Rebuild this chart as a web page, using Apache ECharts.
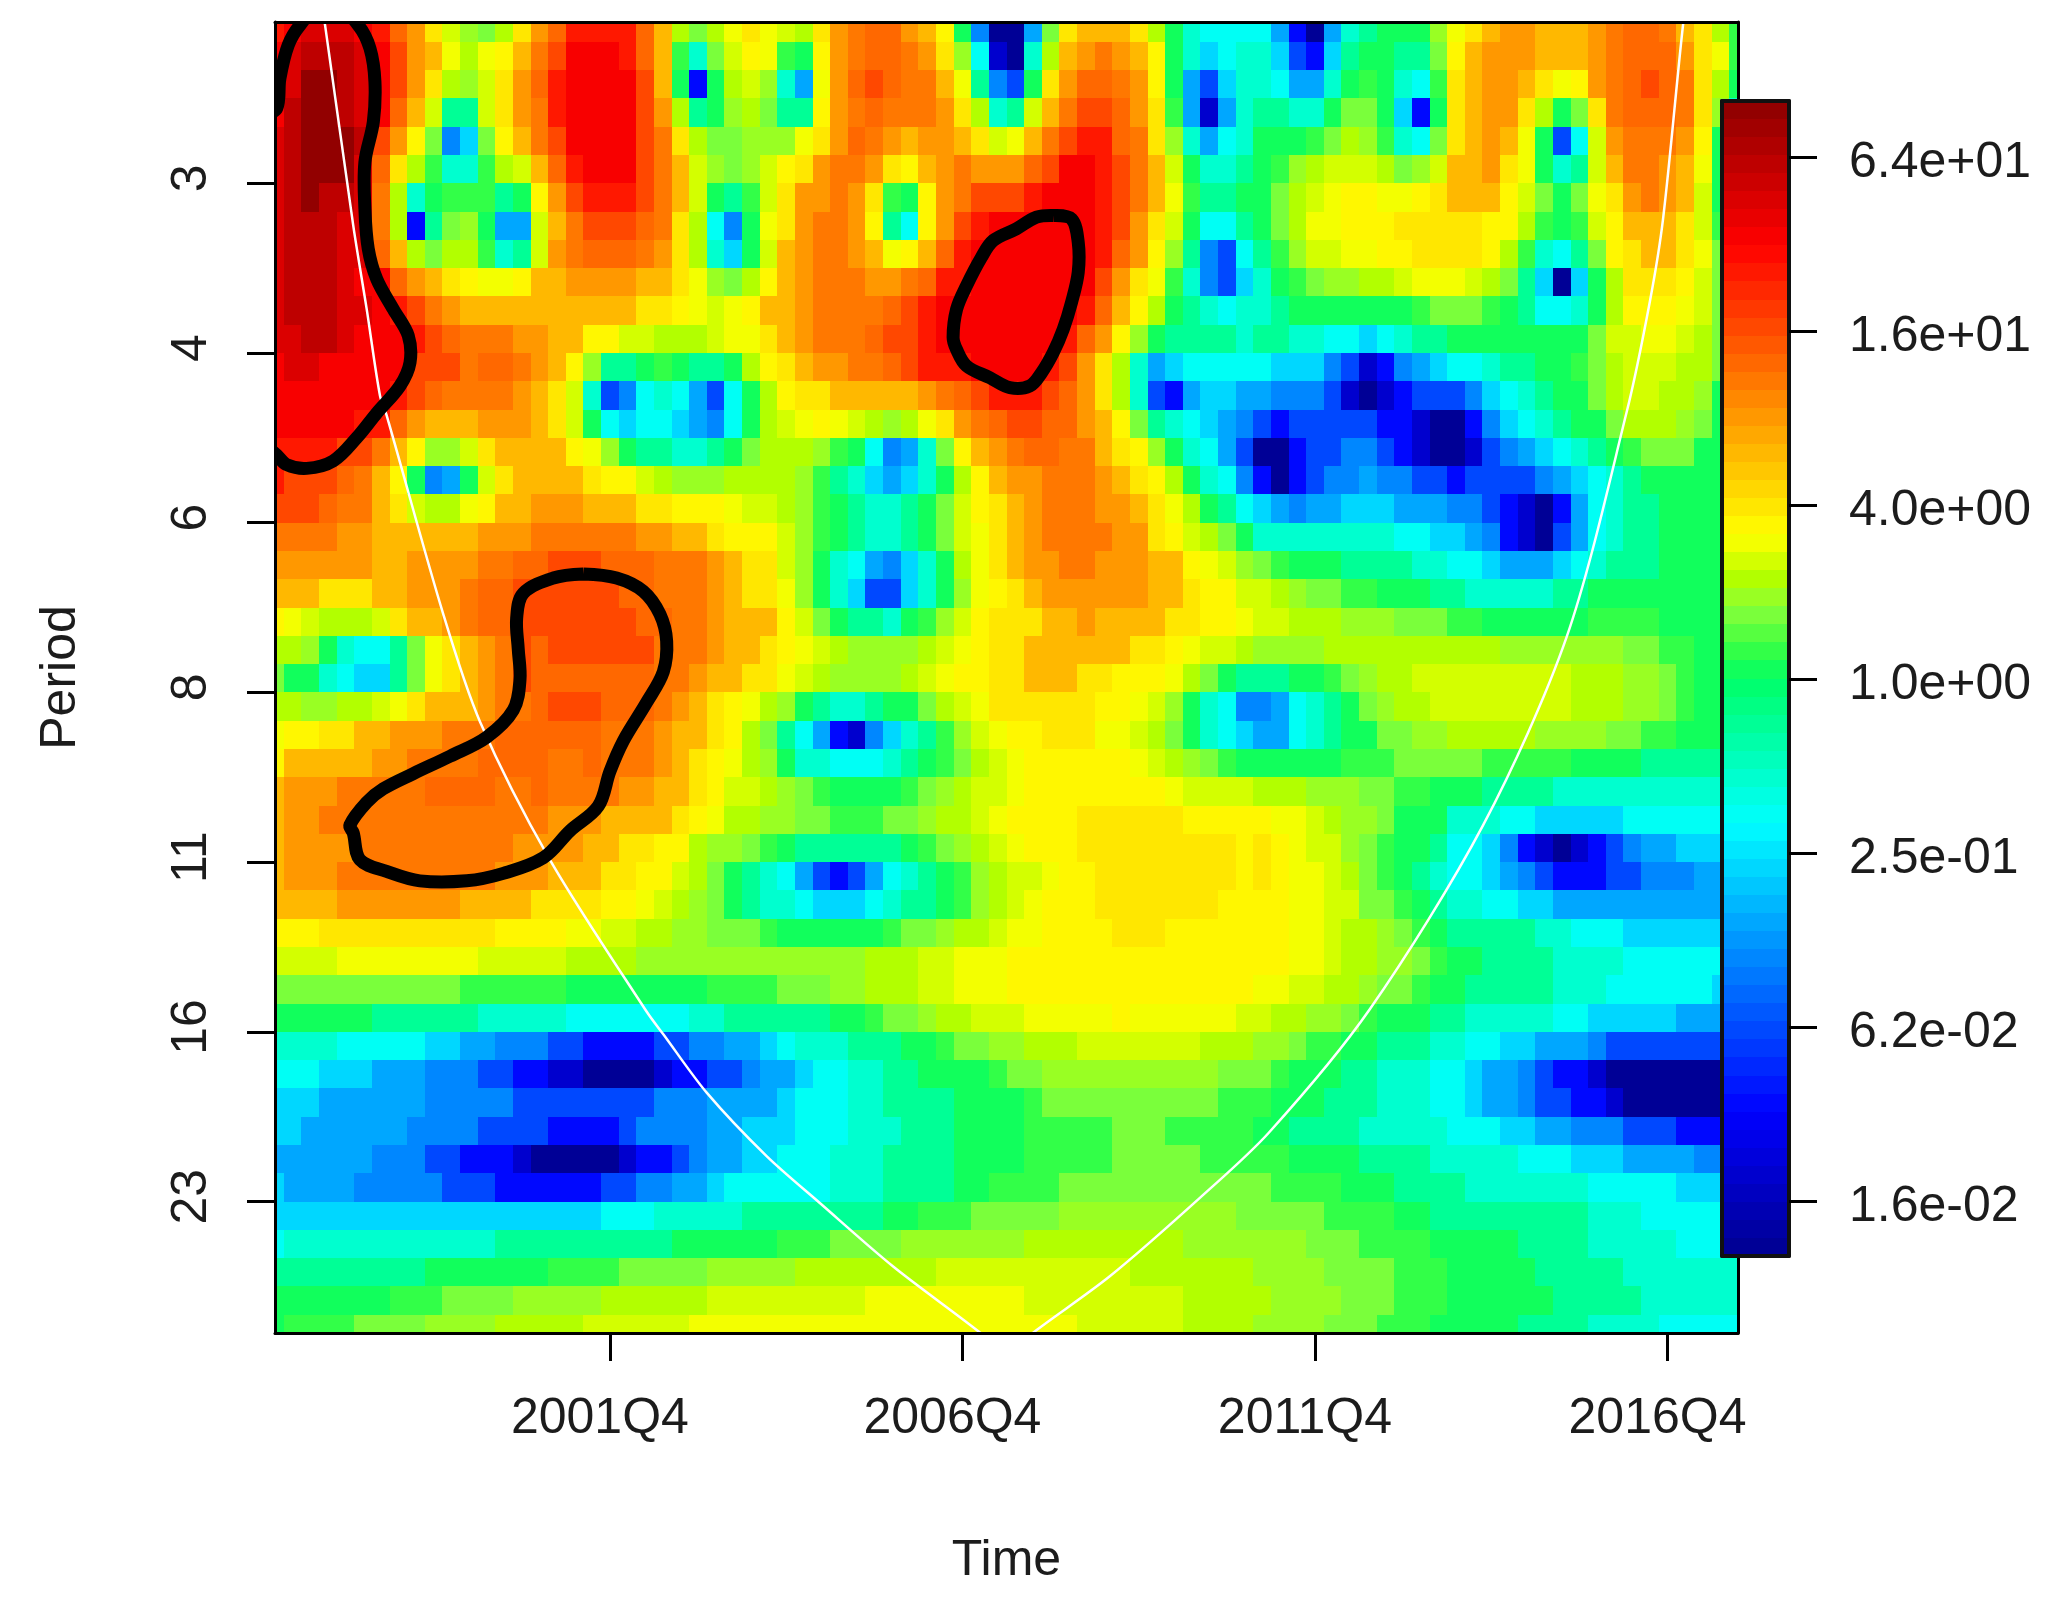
<!DOCTYPE html>
<html>
<head>
<meta charset="utf-8">
<title>Wavelet power spectrum</title>
<script src="https://cdn.jsdelivr.net/npm/echarts@6/dist/echarts.min.js"></script>
<style>
  html, body { margin: 0; padding: 0; background: #fff; }
  #chart { width: 2071px; height: 1621px; }
</style>
</head>
<body>
<div id="chart"></div>
<script>
// Power per cell. One row per period (top to bottom), one letter
// per quarter; a letter is a place on the colour scale, see levelPos.
// Each row is split in three blocks of 29, 27 and 28 quarters.
const powerRows = [
  'yzAAAzywuspnmosuwyyyywtomoqsq posuvwwutrkeaafmstttsokihhh hfcafijkkknqstuutttuvwwvtsol',
  'zABBBAzxutqoqrtvxzzzywtlimprq lkruvwwvusnhbaiotuvutrkighi igdcgjkkjjmrtuuutttuvwwwusql',
  'zACCBAzxusonpsuwyzzzzxtkckopn ifquwxwvvtqjedksuwwvurkfdgi ihffiklkihlstuutsqruvwxwvsok',
  'zBCCBAzwtpjjpsuvyzzzzxuojknom jjruvwvvvusoijptvxxwuslfbfi jjiikmmkgckstuusokmsvwwwvsni',
  'ABCCCBxurmegmrtvxzzzzxvsommnn nqsuwvutuutspqtvxyywvsnifhi kkklmonlihmstutqkdhpuvvvurkk',
  'ABCCCAwsoliiloptwyzzzxvtpnmnp rsuvvusrtuvuuuwxzzyxvtpkiij klnopppomnpttusqkijptvvutqkk',
  'ABCBBAvoikllljkruxyyyxvtpkjlp suuvuslkruvxxxyzzzyxvtqljjk kmopqrrqqrstttrpmkmqsuvutpkk',
  'ABBBAAvocjmnkffptvxxxwvsohekq suvvurjhruxyzzzzzzyxuspkhhj kmoqqrrrsssssrrolklprtttspll',
  'ABBBAAwtomoolijpuvwwwvusoigkp tuvvutqrtwyzzzzzzzywurnjedh jlnppqqrrssssrolihjmrsttsqmm',
  'ABBBAzzwutsrqqrttuuuuttsqnmor tuvvvuuvwyyzzzzzzzxusqliedg iklmnnoopqqqpomjgagkosssrpmm',
  'ABBBAAzyxvuttttttttttssrqpqrt tuvvvvwxyzzzzzzzzywtrokjihi ijkkkkkkklmmmlkjhhikorrrqpmm',
  'AABBAzzzyxwvvvuuttrrppooopqqs tuvvvwxxyzzzzzzzywurnkjjjji jjiihhghijjkkkkkkkkmppqqpomm',
  'zAAzzzzzxxxvwwvutrnjjklkjjkor stuuvvwxyyyzzzzyxusoifghhhh hgggedbcefghhijjkklmopppooml',
  'zzzzzzzyxwvvvvutspidehihfdhko rsstttttuvwxyyyxwusoidcfggf feeedbabcdddeghijkkmoppoonkk',
  'zzzzzyywutttuuutspkhghhgfehko pqrqponoqsuvwxxwwutrmjihgfe dcdddddccbaaceghijkkmooonmkk',
  'yyyyxxvtrnnpsttttrqnkjjiijkmo oonlkhefimrtuvwwvvtsrnkihfd aacddeedcbaabdefghijklmmmkkk',
  'yxxxwvtrkefkpsttttsrrponnnooo onljigfgikortuuvvvutsrokihe cacdeefeeddcddddefghijkkkkkj',
  'xxxwvvtspooqrttuuutttssrrrqpp onlkjiijkmprstuvvvuutsqokjh gfeffgggfffeedcbacfhijjkkkkj',
  'vvvvuuttttttuuuvvvvvvuuttsrrr pnlkjiijkmpqstuvvvvuusrpomk iiiiiiiihhggfecbadfhijjkkkkj',
  'uuuuuuttuuuuvvwwxxxwwwvvvutss pnkihfegikoqstuuvvuuuttrqpn mlkkkjjjjiihhgfffghijjjkkkkj',
  'tttsssttuuuvwwxxxxxxwwvvvutss qnkigddgiknqrstuuuuuuttsrrp ponmmllkkkjjiiiiijjkkkkkkkkj',
  'rqpooopsttuvwwxxxxxxxwwvvuttt rpmkjjiklnprsssttuttttssrrq ppooonnnmmmllkkkkkkllllkkkkj',
  'oonkihhjmqstuvxwxxxxxxvvvutts rqponnnnopqrssttttttssrqppo nnnnoooooooooonnnnnnnmmllkkk',
  'mkkihggjmqstuvxwwwwwwwvvuttss qponnnnopqrrsstttssrrrqomkj jjkklmnoopppppppppooonnmlkkk',
  'oonnoopqstttuvvwxxxwwwvutsrqo nkjiijkkmopqssssssrrqpnkihe efhijkmnooppppppppooonnmlkkk',
  'qrrssttuuuvvvwwwwwwvvvuttsrom jhfcbegijlnpqrrsssqqpomkihg ffhijkkmmnnooooonnnnmmllkkkj',
  'rtttttuuvvvvwwwwvvwvvvutsrqon kiihhhijklmopqrrrrrrqponmlk kkkkklllmmmmmlllllkkkkjjjjjj',
  'tuuuvvvvvwwwwvvwvvvvuuttsrppo nmlkkkklmnoppqrrrrrrrrqpppp ooonnnmmllkkkjjjjiiiiiiiiiii',
  'tuuvvvvvvvvvvvvvuuuttttsrqoon nmmlllmmnoopqrrrrssssssrrrr rqqponnmkkkiiihhggggghhhhhhh',
  'tuuuuvvvvvvvvvuuuuttssrronnml kjjjjjjklmnopqrrrsssssssssr srqppnmlkkjhhgecbabcdeffgggh',
  'tuuuvvvvvvvvvuuutttssrrpomkji hfdcdfhijklnoppqrrssssssssr srqqpomlkjihhgfedcccddeeefff',
  'ttttuuuuuuuttttssssrrqponmkji ihggghijjklnopqrrrsssssssrr rrqqppmmlkjiihhggfffffffffff',
  'rrrssssssssssrrrrqqppoonnmmml kkkkkklmmnoopqqrrrrsssrrrrr rrqqpoonmlkjjjjjiihhhggggggg',
  'ppppqqqqqqqqpppppoooonnnnnnnn nnnnnoooppqqqrrrrrrrrrrrrrr rrqqpoonnmlkkjjjjiiiihhhhhhh',
  'mmmmmmmmmmmllllllkkkkkkkkllll mmmnnoooppqqqrrrrrrrrrrrrrr qqppoonmmlkkjjjjjiiihhhhhhgg',
  'kkkkkkjjjjjjiiiiihhhhhhhiijjj jjjkklmmnoopppqqqqqrqqqqqqp poonnmlkkkjjiiiiihhgggggffff',
  'iiiihhhhhggffeeeddccccddeeffg hiiijjjkklmmnnooopppppppooo nnmllkkjjjiihhggfffedddddddd',
  'hhhgggfffeeeddccbbaaaabccddef fghhiijjkkkklmmnnnnnnnnnnmm mlkkkjjiiihhgffedccbaaaaaaaa',
  'gggffffffeeeeeddddddddeeeffff ghhhiijjjjkkkklmmmmmmmmmmll lkkkjjjiiihhgffeddccbaaaaaaa',
  'ggffffffeeeeddddccccdeeeeffgg ghhhiiijjjkkkklllllmmmlllll kkjjjjiiiiihhhggffeeedddcccc',
  'ffffffeeeddcccbaaaaabccdeffgg hhhiiijjjjkkkklllllmmmmmlll llkkkkjjjjiiiiihhhgggffffeee',
  'gffffeeeeedddccccccddeeffghhh hhhiiijjjjkkllllmmmmmmmmmmm mllllkkkjjjjiiiiiiihhhhhgggg',
  'ggggggggggggggggggghhhiiiiijj jjjjjjkklllmmmmmnnnnnnnnnnm mmmmllllkkjjjjjjjjjiiihhhhhh',
  'hiiiiiiiiiiiijjjjjjjjjjkkkkkk lllmmmmnnnnnnnooooooooonnnn nnnmmmllllkkkkkjjjjiiiiihhhh',
  'jjjjjjjjjkkkkkkkllllmmmmmnnnn noooooooopppppppppppooooooo nnnnmmmmlllkkkkkjjjjjiiiiiii',
  'kkkkkkklllmmmmnnnnnoooooopppp pppppqqqqqqqqqpppppppppoooo onnnnmmmlllkkkkkkjjjjjiiiiii',
  'kllllmmmmnnnnoooooppppppqqqqq qqqqqqqqqqqqqqqqqppppppoooo nnnnmmmlllkkkkkjjjjiiiihhhhh'
];
const blockLengths = [29, 27, 28];

// place of each letter on the colour scale, 0 = bottom of the bar, 1 = top
const levelPos = {
  a: .01, b: .07, c: .125, d: .188, e: .25, f: .292, g: .329, h: .375, i: .417, j: .458,
  k: .5, l: .53, m: .55, n: .565, o: .585, p: .6, q: .615, r: .628, s: .655, t: .688,
  u: .72, v: .75, w: .78, x: .81, y: .845, z: .88, A: .908, B: .943, C: .995
};

// log2 of power at the bottom and top of the colour bar
const powerMin = -6.63;
const powerMax = 6.65;
const powerTicks = [-6, -4, -2, 0, 2, 4, 6];
const powerLabels = ['1.6e-02', '6.2e-02', '2.5e-01', '1.0e+00', '4.0e+00', '1.6e+01', '6.4e+01'];

const timeTicks = [19, 39, 59, 79]; // quarters after 1997Q1
const timeLabels = ['2001Q4', '2006Q4', '2011Q4', '2016Q4'];
const periodTicks = [1.5, 2, 2.5, 3, 3.5, 4, 4.5]; // log2(period)
const periodLabels = ['3', '4', '6', '8', '11', '16', '23'];

// significance contours as [quarter, log2(period)]
const contourCorner = [[-0.6, 2.27], [0.1, 2.301], [0.66, 2.329], [1.8, 2.34], [3.3, 2.318], [4.63, 2.25], [5.77, 2.177],
  [7.09, 2.097], [7.66, 2.028], [7.56, 1.949], [6.71, 1.871], [5.77, 1.782], [5.29, 1.693], [5.1, 1.575], [5.1, 1.438],
  [5.58, 1.319], [5.67, 1.201], [5.39, 1.103], [4.72, 1.034], [3, 0.95], [1.42, 1.034], [0.75, 1.093], [0.28, 1.191],
  [0.1, 1.279], [-0.6, 1.3]];
const contourCentre = [[44.15, 1.595], [45.19, 1.605], [45.57, 1.674], [45.57, 1.762], [45.19, 1.851], [44.72, 1.93],
  [44.15, 1.999], [43.49, 2.058], [42.83, 2.097], [41.69, 2.102], [40.56, 2.073], [39.23, 2.038], [38.66, 1.989],
  [38.47, 1.954], [38.67, 1.871], [39.23, 1.802], [40.08, 1.718], [40.74, 1.669], [42.07, 1.634], [43.2, 1.6], [44.15, 1.595]];
const contourLower = [[17.49, 2.651], [19.38, 2.663], [20.89, 2.702], [21.84, 2.77], [22.22, 2.849], [22.03, 2.939],
  [21.08, 3.03], [19.76, 3.143], [19, 3.233], [18.34, 3.335], [16.73, 3.408], [15.22, 3.487], [12.95, 3.533], [10.87, 3.555],
  [8.22, 3.555], [6.33, 3.527], [4.82, 3.493], [4.44, 3.414], [4.25, 3.391], [5.2, 3.324], [6.14, 3.284], [7.85, 3.239],
  [9.93, 3.188], [12.01, 3.132], [13.52, 3.052], [13.9, 2.962], [13.8, 2.872], [13.71, 2.781], [14.08, 2.708], [15.79, 2.663],
  [17.49, 2.651]];
const contours = [contourCorner, contourCentre, contourLower];

// cone of influence
const coneLine = [[2.7, 1], [2.84, 1.034], [4.44, 1.625], [5.2, 1.87], [5.96, 2.127], [6.33, 2.183], [9.55, 2.77], [11.63, 3.086],
  [15.6, 3.493], [21.08, 3.94], [22.03, 4.007], [24.49, 4.179], [27.89, 4.366], [30.91, 4.504], [35.07, 4.691], [40.18, 4.893],
  [40.6, 4.92], [42.4, 4.92], [42.83, 4.893], [47.36, 4.72], [52.47, 4.489], [56.38, 4.297], [62.1, 3.934], [68.54, 3.391],
  [73.27, 2.838], [76.67, 2.177], [77.99, 1.851], [78.75, 1.604], [79.88, 1.034], [80.05, 1]];

// colour scale stops, the reference stays saturated through the greens
const colourStops = [[0, '#00008f'], [.125, '#0000ff'], [.375, '#00ffff'], [.5, '#00ff66'], [.53, '#40ff40'], [.55, '#70ff40'],
  [.565, '#90ff30'], [.585, '#b0ff00'], [.6, '#d0ff00'], [.615, '#f0ff00'], [.625, '#ffff00'], [.75, '#ff8000'], [.875, '#ff0000'], [1, '#8b0000']];
const BANDS = 64;

const FONT = 'Liberation Sans';
const TEXT = '#1c1c1c';

const hex = (c) => [1, 3, 5].map((i) => parseInt(c.substr(i, 2), 16));

function bandColour(t) {
  // quantised to the 64 bands of the bar
  const b = Math.min(BANDS - 1, Math.max(0, Math.floor(t * BANDS)));
  const p = (b + 0.5) / BANDS;
  let i = 0;
  while (i < colourStops.length - 2 && p > colourStops[i + 1][0]) i++;
  const [t0, c0] = colourStops[i];
  const [t1, c1] = colourStops[i + 1];
  const f = (p - t0) / (t1 - t0);
  const a = hex(c0), z = hex(c1);
  return `rgb(${a.map((v, k) => Math.round(v + (z[k] - v) * f)).join(',')})`;
}

const toT = (v) => (v - powerMin) / (powerMax - powerMin);

const cells = [];
powerRows.forEach((row, r) => {
  // a miscounted block must not push the rest of the row sideways
  const letters = row.split(' ').map((b, k) => b.padEnd(blockLengths[k], b[b.length - 1]).slice(0, blockLengths[k])).join('');
  for (let c = 0; c < letters.length; c++) {
    const v = powerMin + levelPos[letters[c]] * (powerMax - powerMin);
    cells.push([c, 1 + r / 12, 1 + (r + 1) / 12, v]);
  }
});

const bandData = [];
for (let b = 0; b < BANDS; b++) {
  bandData.push([powerMin + (b / BANDS) * (powerMax - powerMin), powerMin + ((b + 1) / BANDS) * (powerMax - powerMin)]);
}

function renderCell(params, api) {
  const a = api.coord([api.value(0) - 0.5, api.value(1)]);
  const b = api.coord([api.value(0) + 0.5, api.value(2)]);
  const g = params.coordSys;
  const x0 = Math.round(Math.max(a[0], g.x));
  const x1 = Math.round(Math.min(b[0], g.x + g.width));
  const y0 = Math.round(Math.max(a[1], g.y));
  const y1 = Math.round(Math.min(b[1], g.y + g.height));
  return {
    type: 'rect',
    shape: { x: x0, y: y0, width: x1 - x0, height: y1 - y0 },
    style: { fill: bandColour(toT(api.value(3))) },
    silent: true,
  };
}

function renderBand(params, api) {
  const a = api.coord([0, api.value(1)]);
  const b = api.coord([1, api.value(0)]);
  return {
    type: 'rect',
    shape: { x: a[0], y: Math.round(a[1]), width: b[0] - a[0], height: Math.round(b[1]) - Math.round(a[1]) },
    style: { fill: bandColour(toT((api.value(0) + api.value(1)) / 2)) },
    silent: true,
  };
}

// custom polyline: its clip is the exact grid, a line series lets wide strokes poke out
function renderContour(params, api) {
  const points = contours[api.value(0)].map((p) => api.coord(p));
  return {
    type: 'polyline',
    shape: { points, smooth: 0.35 },
    style: { fill: null, stroke: '#000', lineWidth: 13 },
    silent: true,
  };
}

const frameLine = { show: true, onZero: false, lineStyle: { color: '#000', width: 3 } };
const barLine = { show: true, onZero: false, lineStyle: { color: '#111', width: 4 } };
const bare = { axisTick: { show: false }, axisLabel: { show: false }, splitLine: { show: false } };

const chart = echarts.init(document.getElementById('chart'), null, { renderer: 'canvas' });
chart.setOption({
  animation: false,
  backgroundColor: '#fff',
  textStyle: { fontFamily: FONT },
  grid: [
    { left: 275, top: 22, width: 1463, height: 1311 },
    { left: 1722, top: 101, width: 67, height: 1155 },
  ],
  xAxis: [
    {
      gridIndex: 0, type: 'value', min: 0, max: 83, position: 'bottom', z: 10, axisLine: frameLine,
      name: 'Time', nameLocation: 'middle', nameGap: 203,
      nameTextStyle: { fontFamily: FONT, fontSize: 50, color: TEXT },
      axisTick: { show: true, length: 28, customValues: timeTicks, lineStyle: { color: '#000', width: 3 } },
      axisLabel: {
        show: true, customValues: timeTicks, margin: 61, fontFamily: FONT, fontSize: 50, color: TEXT, padding: [0, 20, 0, 0],
        formatter: (v) => timeLabels[timeTicks.indexOf(v)],
      },
      splitLine: { show: false },
    },
    { gridIndex: 0, type: 'value', min: 0, max: 83, position: 'top', z: 10, axisLine: frameLine, ...bare },
    { gridIndex: 1, type: 'value', min: 0, max: 1, position: 'bottom', z: 14, axisLine: barLine, ...bare },
    { gridIndex: 1, type: 'value', min: 0, max: 1, position: 'top', z: 14, axisLine: barLine, ...bare },
  ],
  yAxis: [
    {
      gridIndex: 0, type: 'value', min: 1.025, max: 4.887, inverse: true, position: 'left', z: 10, axisLine: frameLine,
      name: 'Period', nameLocation: 'middle', nameGap: 189, nameRotate: 90,
      nameTextStyle: { fontFamily: FONT, fontSize: 50, color: TEXT },
      axisTick: { show: true, length: 28, customValues: periodTicks, lineStyle: { color: '#000', width: 3 } },
      axisLabel: {
        show: true, customValues: periodTicks, margin: 83, rotate: 90, fontFamily: FONT, fontSize: 50, color: TEXT,
        align: 'center', verticalAlign: 'middle', padding: [0, 0, 0, 10],
        formatter: (v) => periodLabels[periodTicks.indexOf(v)],
      },
      splitLine: { show: false },
    },
    { gridIndex: 0, type: 'value', min: 1.025, max: 4.887, inverse: true, position: 'right', z: 10, axisLine: frameLine, ...bare },
    { gridIndex: 1, type: 'value', min: powerMin, max: powerMax, position: 'left', z: 14, axisLine: barLine, ...bare },
    {
      gridIndex: 1, type: 'value', min: powerMin, max: powerMax, position: 'right', z: 14, axisLine: barLine,
      axisTick: { show: true, length: 28, customValues: powerTicks, lineStyle: { color: '#000', width: 3 } },
      axisLabel: {
        // top aligned with a short line height: sits a few px under the tick as in the reference
        show: true, customValues: powerTicks, margin: 60, fontFamily: FONT, fontSize: 50, color: TEXT,
        verticalAlign: 'top', lineHeight: 12,
        formatter: (v) => powerLabels[powerTicks.indexOf(v)],
      },
      splitLine: { show: false },
    },
  ],
  series: [
    { type: 'custom', xAxisIndex: 0, yAxisIndex: 0, data: cells, renderItem: renderCell, z: 2, silent: true, progressive: 0,
      encode: { x: 0, y: 1 } },
    { type: 'line', xAxisIndex: 0, yAxisIndex: 0, data: coneLine, symbol: 'none', smooth: 0.3, clip: true, z: 5, silent: true,
      lineStyle: { color: '#fff', width: 2.5 } },
    { type: 'custom', xAxisIndex: 0, yAxisIndex: 0, data: [[0], [1], [2]], renderItem: renderContour, clip: true, z: 6, silent: true,
      encode: { x: 0 } },
    { type: 'custom', xAxisIndex: 2, yAxisIndex: 3, data: bandData, renderItem: renderBand, z: 12, silent: true,
      encode: { y: 0 } },
  ],
});
</script>
</body>
</html>
